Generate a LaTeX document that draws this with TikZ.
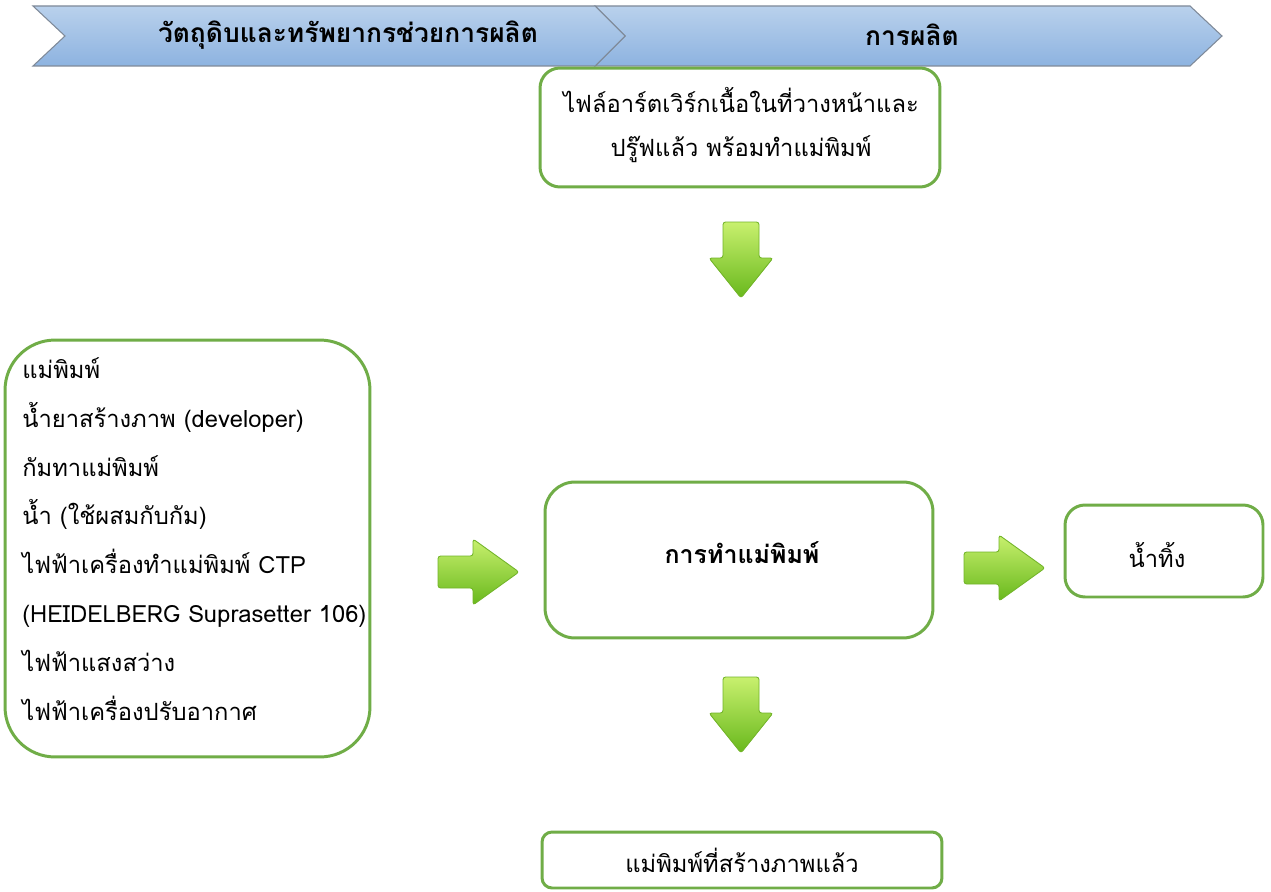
\documentclass[tikz,border=0pt]{standalone}
\usepackage{fontspec}
\setmainfont[Script=Thai]{Loma}
\definecolor{boxgreen}{HTML}{70AD47}
\definecolor{hdtop}{HTML}{B9D1EC}
\definecolor{hdbot}{HTML}{8DB3E0}
\definecolor{hdline}{HTML}{7F8A99}
\definecolor{arrlight}{HTML}{C8F06E}
\definecolor{arrdark}{HTML}{68B81C}
\definecolor{arrline}{HTML}{73B52A}
\tikzset{
  greenbox/.style={draw=boxgreen, line width=1.7pt, fill=white, inner sep=0pt},
  hdshape/.style={draw=hdline, line width=0.6pt, top color=hdtop, bottom color=hdbot},
  hdtext/.style={font=\fontsize{15}{18}\selectfont\bfseries},
  bodytext/.style={font=\fontsize{13.5}{18}\selectfont},
  arrshade/.style={draw=arrline, line width=0.5pt, top color=arrlight, bottom color=arrdark, rounded corners=1.5pt},
  downarr/.pic={\shade[arrshade] (-18,0) -- (18,0) -- (18,36) -- (32,36) -- (0,76) -- (-32,36) -- (-18,36) -- cycle;},
  rightarr/.pic={\shade[arrshade] (-41,-16) -- (-6,-16) -- (-6,-33) -- (40,0) -- (-6,33) -- (-6,16) -- (-41,16) -- cycle;}
}
\begin{document}
\begin{tikzpicture}[x=0.02cm,y=-0.02cm]
\useasboundingbox[fill=white] (0,0) rectangle (1271,892);
% header chevrons
\shade[hdshape] (595,6) -- (1190,6) -- (1222,36) -- (1190,66) -- (595,66) -- (625,36) -- cycle;
\shade[hdshape] (33,6) -- (595,6) -- (625,36) -- (595,66) -- (33,66) -- (65,36) -- cycle;
\node[hdtext] (h1) at (348,35) {วัตถุดิบและทรัพยากรช่วยการผลิต};
\node[hdtext] (h2) at (912,35) {การผลิต};
% boxes
\node[greenbox, rounded corners=0.4cm, minimum width=8cm, minimum height=2.38cm] (top) at (740,127.5) {};
\node[bodytext, align=center, font=\fontsize{13.5}{25.5}\selectfont] (toptext) at (741,125) {ไฟล์อาร์ตเวิร์กเนื้อในที่วางหน้าและ\\ปรู๊ฟแล้ว พร้อมทำแม่พิมพ์};
\node[greenbox, rounded corners=1cm, minimum width=7.3cm, minimum height=8.34cm] (left) at (187.5,548.5) {};
\node[bodytext, align=left, anchor=west, font=\fontsize{13.5}{27.8}\selectfont, inner sep=0pt] (lefttext) at (22,539) {แม่พิมพ์\\น้ำยาสร้างภาพ (developer)\\กัมทาแม่พิมพ์\\น้ำ (ใช้ผสมกับกัม)\\ไฟฟ้าเครื่องทำแม่พิมพ์ CTP\\(HEIDELBERG Suprasetter 106)\\ไฟฟ้าแสงสว่าง\\ไฟฟ้าเครื่องปรับอากาศ};
\node[greenbox, rounded corners=0.6cm, minimum width=7.76cm, minimum height=3.12cm] (center) at (739,560) {};
\node[hdtext, font=\fontsize{14.2}{18}\selectfont\bfseries] (centertext) at (742,553) {การทำแม่พิมพ์};
\node[greenbox, rounded corners=0.4cm, minimum width=3.96cm, minimum height=1.84cm] (right) at (1164,551) {};
\node[bodytext] (righttext) at (1157,555) {น้ำทิ้ง};
\node[greenbox, rounded corners=0.2cm, minimum width=8cm, minimum height=1.12cm] (bottom) at (742,860) {};
\node[bodytext] (bottomtext) at (742,860) {แม่พิมพ์ที่สร้างภาพแล้ว};
% block arrows
\coordinate (a1) at (741,222);
\coordinate (a2) at (479,572);
\coordinate (a3) at (1005,568);
\coordinate (a4) at (741,677);
\pic at (a1) {downarr};
\pic at (a2) {rightarr};
\pic at (a3) {rightarr};
\pic at (a4) {downarr};
\end{tikzpicture}
\end{document}
